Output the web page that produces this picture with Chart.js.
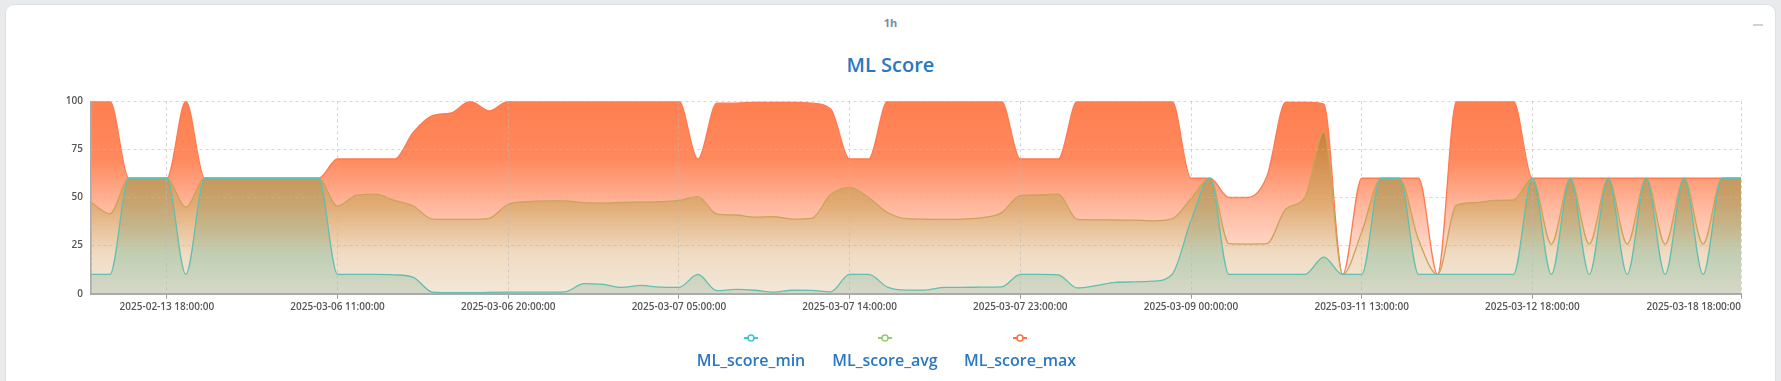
<!DOCTYPE html>
<html><head><meta charset="utf-8">
<script src="https://cdn.jsdelivr.net/npm/chart.js@4.4.1/dist/chart.umd.min.js"></script>
<style>
html,body{margin:0;padding:0;width:1781px;height:381px;overflow:hidden;background:#e9eaec;font-family:"Open Sans",sans-serif;}
#card{position:absolute;left:5px;top:4px;width:1769px;height:420px;background:#fff;border:1px solid #dcdfe3;border-radius:9px;}
canvas{position:absolute;left:0;top:0;}
#period{position:absolute;left:0;width:1781px;top:15.7px;text-align:center;font-size:11px;line-height:14px;font-weight:700;color:#7b89a6;}
#title{position:absolute;left:0;width:1781px;top:52.4px;text-align:center;font-size:20px;line-height:26px;font-weight:600;color:#2a78c2;}
#mini{position:absolute;left:1753px;top:24px;width:10px;height:2px;background:#cfd2d6;}
.lg{position:absolute;top:330px;width:160px;height:40px;}
.lg svg{position:absolute;left:72px;top:2.7px;}
.lg span{position:absolute;left:0;width:160px;top:19.8px;text-align:center;font-size:16px;line-height:20px;font-weight:600;color:#2a78c2;white-space:nowrap;}
</style></head>
<body>
<div id="card"></div>
<div id="period">1h</div>
<div id="title">ML Score</div>
<div id="mini"></div>
<canvas id="c" width="1781" height="381"></canvas>
<div id="legend"></div>
<script>
// ---- data ----
const seriesNames = ['ML_score_min', 'ML_score_avg', 'ML_score_max'];
const tickIndex = [0, 4, 13, 22, 31, 40, 49, 58, 67, 76, 87];
const tickLabels = ['', '2025-02-13 18:00:00', '2025-03-06 11:00:00', '2025-03-06 20:00:00',
  '2025-03-07 05:00:00', '2025-03-07 14:00:00', '2025-03-07 23:00:00', '2025-03-09 00:00:00',
  '2025-03-11 13:00:00', '2025-03-12 18:00:00', '2025-03-18 18:00:00'];
const yTicks = [0, 25, 50, 75, 100];

const minValues = [
  10,10,60,60,60,10,60,60,60,60,
  60,60,60,10,10,10,9.8,8.5,0.8,0.5,
  0.5,0.7,0.8,0.8,0.8,1,5.2,4.8,3.3,4.3,
  3.4,3.3,10,1.6,2.2,1.8,0.8,1.8,1.7,1,
  10,10,3.4,1.9,1.9,3.3,3.3,3.4,3.5,10,
  10,9.8,3,4.2,5.9,6.1,6.5,10,38,60,
  10,10,10,10,10,19,10,10,60,60,
  10,10,10,10,10,10,60,10,60,10,
  60,10,60,10,60,10,60,60];
const avgValues = [
  47.5,41.5,60,60,60,45,60,60,60,60,
  60,60,60,45.5,51.2,51.8,48.5,45.5,38.8,38.6,
  38.6,39.2,46.5,47.8,48.2,48.2,47.3,47.1,47.4,47.6,
  47.8,48.5,50.5,41.4,40.9,39.8,40,38.8,39.2,51.5,
  55.3,50,42.2,39,38.7,38.6,38.8,39.5,42,51,
  51.3,51.8,38.6,38.4,38.3,38.2,37.9,38.9,49.5,60,
  26,25.8,26,44,50,84,10,32,59.5,59.5,
  28,10,46,47.3,48.5,48.7,60,25.8,60,25.8,
  60,25.8,60,25.8,60,25.8,60,60];
const maxValues = [
  100,100,60,60,60,100,60,60,60,60,
  60,60,60,70,70,70,70,84,92.5,94,
  100,95,100,100,100,100,100,100,100,100,
  100,100,70,99,99,99.5,99.5,99.5,99,96,
  70,70,100,100,100,100,100,100,100,70,
  70,70,100,100,100,100,100,100,60,60,
  50,50,61,99.5,99.5,98.5,10,60,60,60,
  60,10,100,100,100,100,60,60,60,60,
  60,60,60,60,60,60,60,60];

// ---- styles ----
const lineColors = ['#5fbfb0', '#c9a45c', '#ff7a4f'];
const legendColors = ['#3ec5dc', '#93cc76', '#ff7043'];
const fillStops = [
  [[0,'rgba(110,135,95,0.16)'],[0.4,'rgba(120,155,110,0.3)'],[0.7,'rgba(130,190,160,0.42)'],[1,'rgba(165,190,170,0.38)']],
  [[0,'rgba(198,128,55,0.92)'],[0.45,'rgba(222,170,112,0.9)'],[0.75,'rgba(238,219,193,0.88)'],[1,'rgba(241,229,212,0.9)']],
  [[0,'rgba(255,127,80,1)'],[0.3,'rgba(255,127,80,0.92)'],[0.55,'rgba(255,127,80,0.55)'],[1,'rgba(255,127,80,0.05)']]
];
const allSeries = [minValues, avgValues, maxValues];

function gradientFor(i) {
  return function(ctx) {
    const chart = ctx.chart;
    const area = chart.chartArea;
    if (!area) return 'rgba(0,0,0,0)';
    const y = chart.scales.y;
    const top = y.getPixelForValue(Math.max(...allSeries[i]));
    const bot = y.getPixelForValue(0);
    const g = chart.ctx.createLinearGradient(0, top, 0, bot);
    fillStops[i].forEach(s => g.addColorStop(s[0], s[1]));
    return g;
  };
}

Chart.defaults.font.family = "'Open Sans', sans-serif";

const datasets = allSeries.map((vals, i) => ({
  label: seriesNames[i],
  data: vals,
  borderColor: lineColors[i],
  borderWidth: 1.3,
  backgroundColor: gradientFor(i),
  fill: 'origin',
  pointRadius: 0,
  pointHoverRadius: 0,
  cubicInterpolationMode: 'monotone'
}));

const gridColor = 'rgba(185,185,185,0.6)';
const tickFont = {family: "'Open Sans', sans-serif", size: 10, weight: '600'};

new Chart(document.getElementById('c'), {
  type: 'line',
  data: { labels: minValues.map((_, i) => i), datasets },
  options: {
    responsive: false,
    animation: false,
    events: [],
    layout: { padding: { top: 101.3, left: 40, right: 40, bottom: 57.3 } },
    plugins: { legend: { display: false }, tooltip: { enabled: false }, title: { display: false } },
    scales: {
      x: {
        type: 'linear',
        min: 0,
        max: minValues.length - 1,
        afterBuildTicks: s => { s.ticks = tickIndex.map(v => ({ value: v })); },
        afterFit: s => { s.height = 30; s.paddingLeft = 0; s.paddingRight = 0; },
        ticks: {
          autoSkip: false, maxRotation: 0, minRotation: 0, align: 'inner', padding: 2,
          font: tickFont, color: '#555',
          callback: v => { const k = tickIndex.indexOf(v); return k >= 0 ? tickLabels[k] : ''; }
        },
        grid: {
          color: gridColor, lineWidth: 1, z: 1, tickLength: 5, tickWidth: 1,
          tickColor: c => (c.index === 0 ? 'rgba(0,0,0,0)' : '#999')
        },
        border: { display: true, color: '#aaa', width: 2, dash: [3, 3], z: 2 }
      },
      y: {
        min: 0,
        max: 100,
        afterBuildTicks: s => { s.ticks = yTicks.map(v => ({ value: v })); },
        afterFit: s => { s.width = 51; },
        ticks: { padding: 8, font: tickFont, color: '#555' },
        grid: { color: gridColor, lineWidth: 1, z: 1, drawTicks: false },
        border: { display: true, color: '#aaa', width: 1.5, dash: [3, 3], z: 2 }
      }
    }
  }
});

// ---- legend (icon above label) ----
const legendCenters = [751, 885, 1020];
const lg = document.getElementById('legend');
seriesNames.forEach((name, i) => {
  const d = document.createElement('div');
  d.className = 'lg';
  d.style.left = (legendCenters[i] - 80) + 'px';
  d.innerHTML = '<svg width="16" height="10" viewBox="0 0 16 10">' +
    '<line x1="1" y1="5" x2="15" y2="5" stroke="' + legendColors[i] + '" stroke-width="2"/>' +
    '<circle cx="8" cy="5" r="3" fill="#fff" stroke="' + legendColors[i] + '" stroke-width="1.6"/></svg>' +
    '<span>' + name + '</span>';
  lg.appendChild(d);
});
</script>
</body></html>
